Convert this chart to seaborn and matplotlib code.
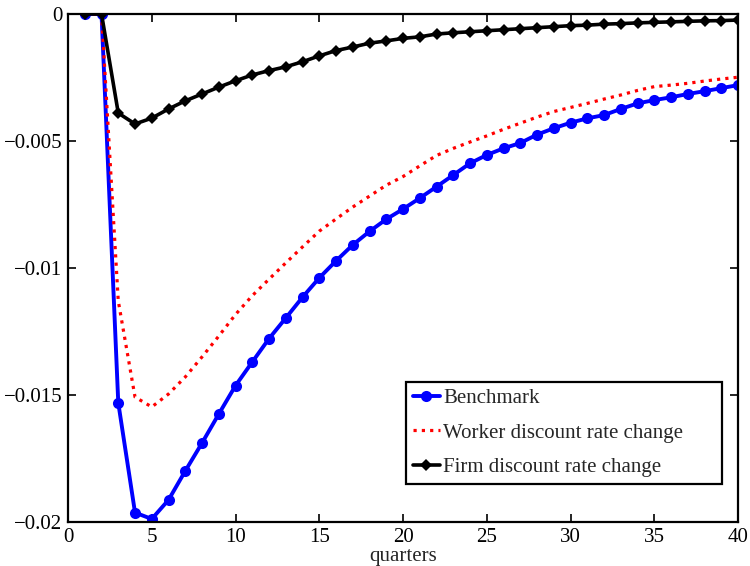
import matplotlib
matplotlib.use("Agg")
import matplotlib.pyplot as plt
import seaborn as sns
import pandas as pd

quarters = list(range(1, 41))

benchmark = [0, 0, -0.01531, -0.01963, -0.01988, -0.01913, -0.01799, -0.01689,
             -0.01575, -0.01463, -0.01370, -0.01278, -0.01197, -0.01115, -0.01039,
             -0.00972, -0.00909, -0.00856, -0.00808, -0.00768, -0.00725, -0.00680,
             -0.00634, -0.00588, -0.00555, -0.00529, -0.00508, -0.00475, -0.00450,
             -0.00428, -0.00411, -0.00398, -0.00374, -0.00352, -0.00339, -0.00328,
             -0.00315, -0.00304, -0.00292, -0.00280]

worker_rate = [0, 0, -0.01130, -0.01508, -0.01547, -0.01496, -0.01429, -0.01350,
               -0.01268, -0.01183, -0.01109, -0.01044, -0.00980, -0.00917, -0.00855,
               -0.00807, -0.00760, -0.00717, -0.00674, -0.00640, -0.00598, -0.00557,
               -0.00529, -0.00504, -0.00480, -0.00454, -0.00430, -0.00406, -0.00384,
               -0.00368, -0.00352, -0.00335, -0.00319, -0.00301, -0.00286, -0.00280,
               -0.00273, -0.00264, -0.00256, -0.00249]

firm_rate = [0, 0, -0.00390, -0.00433, -0.00410, -0.00374, -0.00342, -0.00315,
             -0.00288, -0.00263, -0.00240, -0.00223, -0.00208, -0.00188, -0.00165,
             -0.00144, -0.00130, -0.00115, -0.00106, -0.00096, -0.00090, -0.00079,
             -0.00074, -0.00070, -0.00066, -0.00062, -0.00058, -0.00054, -0.00050,
             -0.00046, -0.00044, -0.00040, -0.00038, -0.00035, -0.00033, -0.00031,
             -0.00029, -0.00027, -0.00026, -0.00024]

series_names = ["Benchmark", "Worker discount rate change", "Firm discount rate change"]
x_ticks = [0, 5, 10, 15, 20, 25, 30, 35, 40]
y_ticks = [-0.02, -0.015, -0.01, -0.005, 0]
y_tick_labels = ["\u22120.02", "\u22120.015", "\u22120.01", "\u22120.005", "0"]

sns.set_theme(style="white")
plt.rcParams["font.family"] = ["Liberation Serif", "DejaVu Serif"]
plt.rcParams["font.size"] = 15

fig = plt.figure(figsize=(7.5, 5.66), dpi=100)
ax = fig.add_axes([0.0907, 0.0777, 0.8933, 0.8976])

df = pd.DataFrame({"quarters": quarters, "bench": benchmark,
                   "worker": worker_rate, "firm": firm_rate})

sns.lineplot(data=df, x="quarters", y="bench", ax=ax, color="blue",
             linewidth=2.8, marker="o", markersize=8, markeredgewidth=0,
             label=series_names[0])
sns.lineplot(data=df, x="quarters", y="worker", ax=ax, color="red",
             linewidth=2.3, linestyle=(0, (1, 1.6)), label=series_names[1])
sns.lineplot(data=df, x="quarters", y="firm", ax=ax, color="black",
             linewidth=2.6, marker="D", markersize=6, markeredgewidth=0,
             label=series_names[2])

ax.set_xlim(0, 40)
ax.set_ylim(-0.02, 0)
ax.set_xticks(x_ticks)
ax.set_xticklabels([str(t) for t in x_ticks])
ax.set_yticks(y_ticks)
ax.set_yticklabels(y_tick_labels)
ax.set_xlabel("quarters", fontsize=15, labelpad=0)
ax.set_ylabel("")

ax.tick_params(axis="both", which="both", direction="in", length=6, width=1.2,
               top=True, right=True, bottom=True, left=True,
               labelsize=15, colors="black", pad=4)
for side in ["top", "right", "bottom", "left"]:
    ax.spines[side].set_visible(True)
    ax.spines[side].set_color("black")
    ax.spines[side].set_linewidth(1.6)

# legend box spans a fixed width in the lower right, text left-aligned
leg = ax.legend(loc="lower left", bbox_to_anchor=(0.5045, 0.0748, 0.4716, 0.2),
                mode="expand", fontsize=15, handlelength=1.3, handletextpad=0.15,
                borderpad=0.32, labelspacing=0.72, fancybox=False,
                framealpha=1, borderaxespad=0)
leg.get_frame().set_edgecolor("black")
leg.get_frame().set_linewidth(1.6)

fig.savefig("out.png", dpi=100)
